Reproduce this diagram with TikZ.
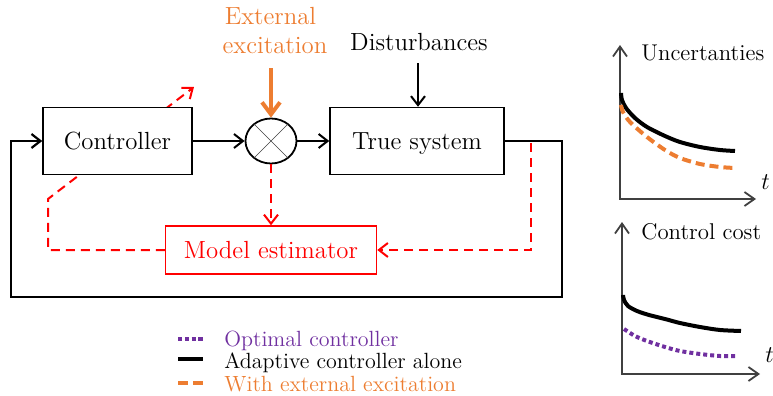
\documentclass[tikz,border=0pt]{standalone}
\usetikzlibrary{arrows.meta,shapes.geometric}
\definecolor{exorange}{RGB}{237,125,49}
\definecolor{optpurple}{RGB}{112,48,160}
\definecolor{axisgray}{RGB}{64,64,64}
\begin{document}
\begin{tikzpicture}[x=0.5pt,y=-0.5pt,
  every node/.style={font=\fontsize{12.4}{14}\selectfont, inner sep=0pt},
  block/.style={draw,line width=0.75pt,fill=white,text depth=0pt},
  barb/.style={-{Straight Barb[length=4.5pt,width=7pt]}},
  sig/.style={line width=1pt,barb},
  estline/.style={red,line width=1pt,dash pattern=on 4.5pt off 3pt},
  axis/.style={axisgray,line width=0.9pt,{Straight Barb[length=5pt,width=7pt]}-{Straight Barb[length=5pt,width=7pt]}},
  curve/.style={line width=2pt},
  lbl/.style={font=\fontsize{11.4}{13}\selectfont, anchor=base west},
  legtext/.style={font=\fontsize{11}{12}\selectfont, anchor=base west},
]
\useasboundingbox (0,0) rectangle (773,396);

% estimator first, so the dashed update path can pass under the controller
\node[block,draw=red,text=red,minimum width=105.5pt,minimum height=24pt] (est) at (271,250) {Model estimator};

\coordinate (elbow) at (48,199);
\coordinate (tipend) at (194,87);
\draw[estline,barb] (est.west) -| (elbow) -- (tipend);

% blocks of the loop
\node[block,minimum width=74.5pt,minimum height=33.5pt] (ctrl) at (117.5,141) {Controller};
\node[draw,ellipse,line width=0.9pt,minimum width=25.5pt,minimum height=22.5pt] (mult) at (271,141) {};
\draw[line width=0.35pt,black!75] (mult.45) -- (mult.225) (mult.135) -- (mult.315);
\node[block,minimum width=87pt,minimum height=33.5pt] (sys) at (417,141) {True system};

% inputs from above
\node[anchor=base,text=exorange] (ext1) at (270.5,25) {External};
\node[anchor=base,text=exorange] (ext2) at (275,54) {excitation};
\node[anchor=base] (dist) at (419,50) {Disturbances};

\coordinate (exsrc) at (271,68);
\draw[exorange,line width=2pt,-{Straight Barb[length=6pt,width=9pt]}] (exsrc) -- (mult.north);
\coordinate (dsrc) at (418,63);
\draw[sig] (dsrc) -- (dsrc |- sys.north);

% estimator inputs
\coordinate (tap) at (531,143);
\draw[estline,barb] (tap) |- (est.east);
\draw[estline,barb] (mult.south) -- (est.north);

% forward path and feedback loop
\draw[sig] (ctrl.east) -- (mult.west);
\draw[sig] (mult.east) -- (sys.west);
\coordinate (cr) at (562,141);
\coordinate (cb) at (562,297);
\coordinate (lb) at (11,297);
\coordinate (lt) at (11,141);
\draw[sig,line width=1.1pt] (sys.east) -- (cr) -- (cb) -- (lb) -- (lt) -- (ctrl.west);

% uncertainty plot
\draw[axis] (620,45) -- (620,199) -- (756,199);
\draw[curve] plot[smooth] coordinates {(621,93) (622,100) (626,108) (635,118) (647,127) (665,136) (680,142) (700,147) (720,150) (735,151)};
\draw[curve,exorange,dash pattern=on 4.5pt off 2.5pt] plot[smooth] coordinates {(621,105) (623,112) (630,122) (647,137) (665,150) (680,158) (700,164) (720,167) (735,168)};
\node[lbl] (unc) at (641,60.5) {Uncertanties};
\node[lbl,font=\fontsize{12.4}{14}\selectfont] (t1) at (761,190) {$t$};

% control cost plot
\draw[axis] (622,222) -- (622,374) -- (760,374);
\draw[curve] plot[smooth] coordinates {(623,295) (624,300) (628,306) (637,311) (649,315) (665,319) (680,323) (700,327) (720,330) (741,331)};
\draw[curve,optpurple,dash pattern=on 2pt off 1.5pt] plot[smooth] coordinates {(624,329) (635,336) (647,341) (665,347) (680,351) (700,354) (720,356) (738,356)};
\node[lbl] (cost) at (641,239) {Control cost};
\node[lbl,font=\fontsize{12.4}{14}\selectfont] (t2) at (765,362) {$t$};

% legend
\draw[optpurple,line width=2pt,dash pattern=on 2.2pt off 1.2pt] (178,339) -- (203,339);
\draw[line width=2pt] (178,359) -- (203,359);
\draw[exorange,line width=2pt,dash pattern=on 5pt off 2.5pt] (178,383) -- (203,383);
\node[legtext,text=optpurple] (l1) at (224,346) {Optimal controller};
\node[legtext] (l2) at (224,368.5) {Adaptive controller alone};
\node[legtext,text=exorange] (l3) at (224,391) {With external excitation};
\end{tikzpicture}
\end{document}
